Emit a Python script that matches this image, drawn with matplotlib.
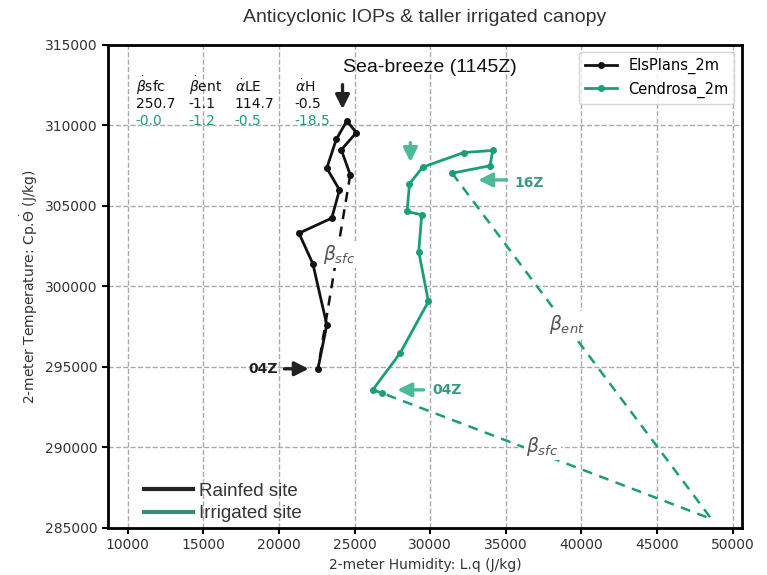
import numpy as np
import matplotlib
matplotlib.use("Agg")
import matplotlib.pyplot as plt
from matplotlib.lines import Line2D

# 2 m moist static energy components, hourly from 04Z
elsplans_lq = [22570, 23160, 22240, 21320, 23490, 24000, 23160, 23790, 24490, 25110, 24120, 24710]
elsplans_cpt = [294850, 297610, 301400, 303300, 304240, 305990, 307340, 309140, 310280, 309550, 308480, 306930]

cendrosa_lq = [26820, 26200, 28010, 29880, 29240, 29440, 28470, 28630, 29500, 32210, 34130, 33960, 31450]
cendrosa_cpt = [293370, 293570, 295850, 299060, 302160, 304440, 304650, 306370, 307400, 308310, 308440, 307490, 307030]

# end point of the surface flux vector (irrigated site)
cendrosa_corner = (48600, 285550)

stat_names = [r"$\dot{\beta}$sfc", r"$\dot{\beta}$ent", r"$\dot{\alpha}$LE", r"$\dot{\alpha}$H"]
stats_rainfed = ["250.7", "-1.1", "114.7", "-0.5"]
stats_irrigated = ["-0.0", "-1.2", "-0.5", "-18.5"]

black = "#111111"
green = "#1b9e77"
arrow_green = "#4db89a"
label_green = "#3c9a82"

fig = plt.figure(figsize=(7.67, 5.75), dpi=100)
ax = fig.add_axes([0.141, 0.082, 0.826, 0.840])

l1, = ax.plot(elsplans_lq, elsplans_cpt, "-o", color=black, lw=2, ms=4, label="ElsPlans_2m")
l2, = ax.plot(cendrosa_lq, cendrosa_cpt, "-o", color=green, lw=2, ms=4, label="Cendrosa_2m")

# flux vectors
ax.plot([elsplans_lq[-1], elsplans_lq[0]], [elsplans_cpt[-1], elsplans_cpt[0]],
        "--", color=black, lw=1.8, dashes=(4, 3))
ax.plot([cendrosa_lq[-1], cendrosa_corner[0], cendrosa_lq[0]],
        [cendrosa_cpt[-1], cendrosa_corner[1], cendrosa_cpt[0]],
        "--", color=green, lw=1.8, dashes=(4, 3))

box = dict(facecolor="white", edgecolor="none", pad=1.5)
ax.text(24000, 301960, r"$\beta_{sfc}$", color="#555555", fontsize=13.5, ha="center", va="center", bbox=box)
ax.text(39060, 297610, r"$\beta_{ent}$", color="#555555", fontsize=13.5, ha="center", va="center", bbox=box)
ax.text(37410, 290030, r"$\beta_{sfc}$", color="#555555", fontsize=13.5, ha="center", va="center", bbox=box)

# stats table (baselines)
for xs, name, v1, v2 in zip([10530, 14030, 17070, 21030], stat_names, stats_rainfed, stats_irrigated):
    ax.text(xs, 312080, name, fontsize=10, color=black, va="baseline")
    ax.text(xs, 311060, v1, fontsize=10, color=black, va="baseline")
    ax.text(xs, 310000, v2, fontsize=10, color=green, va="baseline")

# arrows and time labels
ax.text(29950, 313570, "Sea-breeze (1145Z)", fontsize=14, family="Liberation Sans",
        color=black, ha="center", va="center")
arrow = dict(arrowstyle="-|>", lw=2.4, mutation_scale=21)
ax.annotate("", xy=(24200, 310840), xytext=(24200, 312700),
            arrowprops=dict(arrow, color="#222222"))
ax.annotate("", xy=(28690, 307550), xytext=(28690, 309100),
            arrowprops=dict(arrow, color=arrow_green))
ax.annotate("", xy=(32990, 306610), xytext=(35230, 306610),
            arrowprops=dict(arrow, color=arrow_green))
ax.text(35560, 306430, "16Z", fontsize=10, fontweight="bold", color=label_green, va="center")
ax.annotate("", xy=(27640, 293570), xytext=(29750, 293570),
            arrowprops=dict(arrow, color=arrow_green))
ax.text(30150, 293570, "04Z", fontsize=10, fontweight="bold", color=label_green, va="center")
ax.annotate("", xy=(22150, 294880), xytext=(20170, 294880),
            arrowprops=dict(arrow, color="#222222"))
ax.text(19900, 294880, "04Z", fontsize=10, fontweight="bold", color="#222222", ha="right", va="center")

ax.set_xlim(8700, 50600)
ax.set_ylim(285000, 315000)
ax.set_xticks(np.arange(10000, 50001, 5000))
ax.set_yticks(np.arange(285000, 315001, 5000))
ax.grid(True, linestyle="--", color="#aaaaaa", lw=1)
ax.tick_params(labelsize=10, labelcolor="#333333", width=1.5, length=4)
for s in ax.spines.values():
    s.set_linewidth(2)
ax.set_xlabel("2-meter Humidity: L.q (J/kg)", fontsize=10, color="#333333")
ax.set_ylabel(r"2-meter Temperature: Cp.$\dot{\Theta}$ (J/kg)", fontsize=10, color="#333333")

leg1 = ax.legend(handles=[l1, l2], loc="upper right", fontsize=10.5, handlelength=2.2)
ax.add_artist(leg1)
site_handles = [Line2D([], [], color="#222222", lw=3), Line2D([], [], color="#3a8c7a", lw=3)]
ax.legend(site_handles, ["Rainfed site", "Irrigated site"], loc="lower left", frameon=False,
          bbox_to_anchor=(0.045, -0.004), borderaxespad=0,
          prop={"family": "Liberation Sans", "size": 13.5}, labelcolor="#333333",
          handlelength=2.6, handletextpad=0.3, labelspacing=0.3)

fig.text(0.554, 0.97, "Anticyclonic IOPs & taller irrigated canopy", fontsize=14,
         family="Liberation Sans", color="#333333", ha="center", va="center")

fig.savefig("out.png", dpi=100)
